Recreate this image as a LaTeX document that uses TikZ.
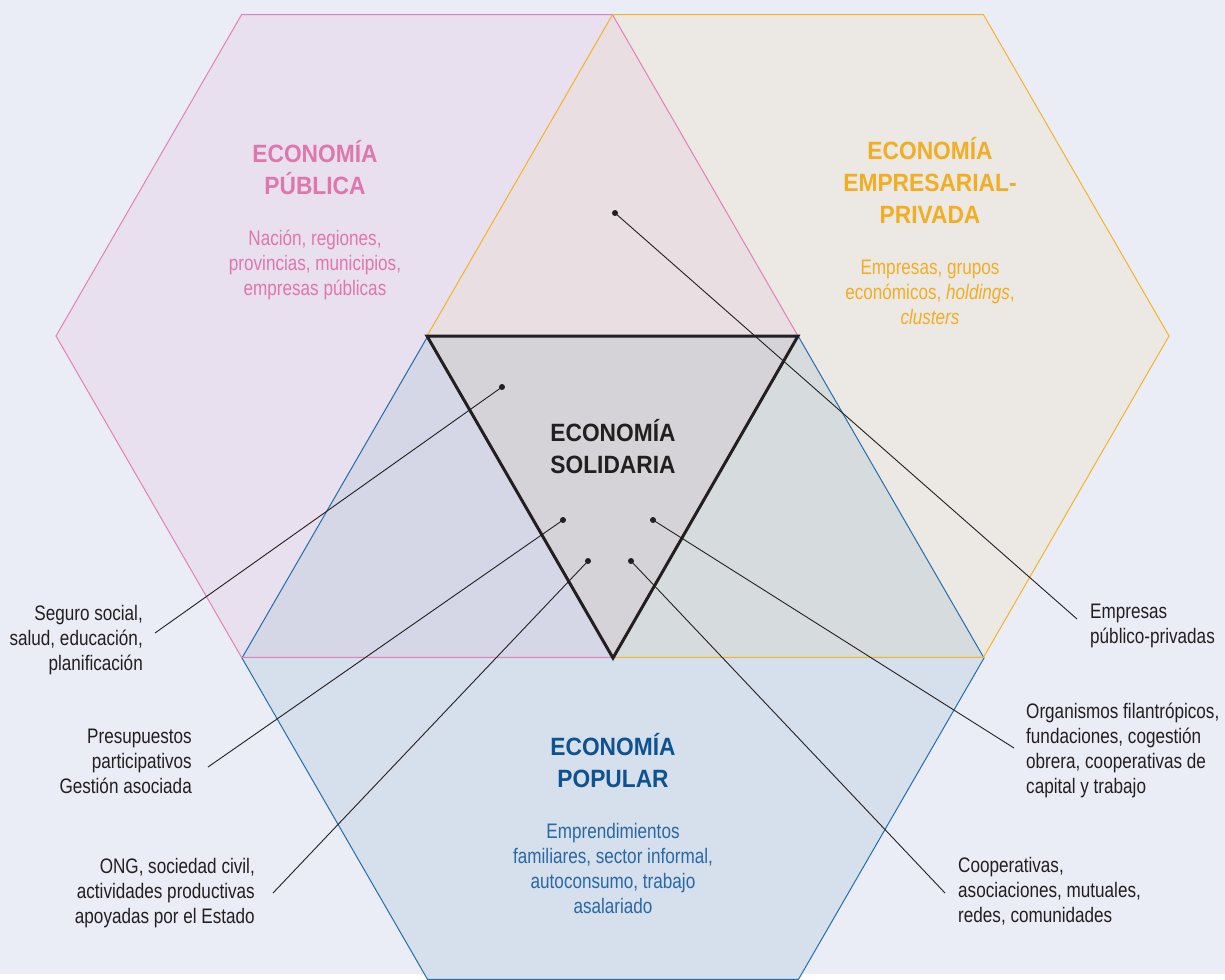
\documentclass[tikz,border=0pt]{standalone}
\usepackage{fontspec}
\setmainfont{Liberation Sans}[FakeStretch=0.815]
\newfontfamily\headfont{Liberation Sans}[FakeStretch=0.91]
\definecolor{BgBlue}{RGB}{234,237,246}
\definecolor{PinkFill}{RGB}{232,224,238}
\definecolor{GoldFill}{RGB}{236,232,228}
\definecolor{BlueFill}{RGB}{214,223,236}
\definecolor{PinkGold}{RGB}{233,222,225}
\definecolor{PinkBlue}{RGB}{213,214,230}
\definecolor{GoldBlue}{RGB}{214,220,222}
\definecolor{CoreFill}{RGB}{213,210,216}
\definecolor{PinkLine}{RGB}{228,128,184}
\definecolor{GoldLine}{RGB}{244,180,40}
\definecolor{BlueLine}{RGB}{36,110,172}
\definecolor{PinkText}{RGB}{224,118,174}
\definecolor{GoldText}{RGB}{242,174,34}
\definecolor{BlueTitle}{RGB}{14,82,146}
\definecolor{BlueText}{RGB}{40,104,166}
\definecolor{Ink}{RGB}{35,31,32}

\begin{document}
\begin{tikzpicture}[x=1pt, y=-1pt,
    every node/.style={inner sep=0pt, text=Ink},
    body/.style={font=\fontsize{21}{25}\selectfont},
    title/.style={font=\headfont\fontsize{25}{32}\selectfont\bfseries, align=center},
    hexline/.style={line width=1pt},
    dot/.style={circle, fill=Ink, minimum size=6pt, inner sep=0pt},
    leader/.style={draw=Ink, line width=0.9pt}]

\fill[BgBlue] (0,0) rectangle (1225,974);

% corner points of the figure
\coordinate (A)  at (612,14);
\coordinate (L)  at (427,336);
\coordinate (R)  at (798,336);
\coordinate (B)  at (613,658);
\coordinate (BL) at (242,658);
\coordinate (BR) at (984,658);
\coordinate (pc) at (427,336);
\coordinate (gc) at (798,336);
\coordinate (bc) at (613,658);

% hexagon fills
\fill[PinkFill] (pc) +(0:371) \foreach \a in {60,120,...,300} { -- +(\a:371) } -- cycle;
\fill[GoldFill] (gc) +(0:371) \foreach \a in {60,120,...,300} { -- +(\a:371) } -- cycle;
\fill[BlueFill] (bc) +(0:371) \foreach \a in {60,120,...,300} { -- +(\a:371) } -- cycle;

% overlaps
\fill[PinkGold] (A) -- (R) -- (L) -- cycle;
\fill[PinkBlue] (L) -- (B) -- (BL) -- cycle;
\fill[GoldBlue] (R) -- (BR) -- (B) -- cycle;
\fill[CoreFill] (L) -- (R) -- (B) -- cycle;

% hexagon outlines
\draw[hexline, BlueLine] (bc) +(0:371) \foreach \a in {60,120,...,300} { -- +(\a:371) } -- cycle;
\draw[hexline, PinkLine] (pc) +(0:371) \foreach \a in {60,120,...,300} { -- +(\a:371) } -- cycle;
\draw[hexline, GoldLine] (gc) +(0:371) \foreach \a in {60,120,...,300} { -- +(\a:371) } -- cycle;
\draw[line width=3pt, Ink, line join=miter] (L) -- (R) -- (B) -- cycle;

% titles and contents (base = last line)
\node[title, text=PinkText, anchor=base] (pubT) at (315,194) {ECONOMÍA\\PÚBLICA};
\node[body, align=center, text=PinkText, anchor=base] (pubS) at (315,295)
  {Nación, regiones,\\provincias, municipios,\\empresas públicas};
\node[title, text=GoldText, anchor=base] (priT) at (930,223) {ECONOMÍA\\EMPRESARIAL-\\PRIVADA};
\node[body, align=center, text=GoldText, anchor=base] (priS) at (930,324)
  {Empresas, grupos\\económicos, \textit{holdings},\\\textit{clusters}};
\node[title, anchor=base] (solT) at (613,473) {ECONOMÍA\\SOLIDARIA};
\node[title, text=BlueTitle, anchor=base] (popT) at (613,787) {ECONOMÍA\\POPULAR};
\node[body, align=center, text=BlueText, anchor=base] (popS) at (613,913)
  {Emprendimientos\\familiares, sector informal,\\autoconsumo, trabajo\\asalariado};

% side labels
\node[body, align=right, anchor=base east] (seg) at (143,670) {Seguro social,\\salud, educación,\\planificación};
\node[body, align=right, anchor=base east] (pre) at (192,793) {Presupuestos\\participativos\\Gestión asociada};
\node[body, align=right, anchor=base east] (ong) at (255,923) {ONG, sociedad civil,\\actividades productivas\\apoyadas por el Estado};
\node[body, align=left, anchor=base west] (emp) at (1090,643) {Empresas\\público-privadas};
\node[body, align=left, anchor=base west] (org) at (1026,793) {Organismos filantrópicos,\\fundaciones, cogestión\\obrera, cooperativas de\\capital y trabajo};
\node[body, align=left, anchor=base west] (coo) at (958,922) {Cooperativas,\\asociaciones, mutuales,\\redes, comunidades};

% dots
\node[dot] (dEmp) at (615,213) {};
\node[dot] (dSeg) at (502,387) {};
\node[dot] (dPre) at (563,520) {};
\node[dot] (dOrg) at (653,520) {};
\node[dot] (dOng) at (588,561) {};
\node[dot] (dCoo) at (631,561) {};

% free ends beside the labels
\coordinate (eEmp) at (1077,619);
\coordinate (eSeg) at (155,633);
\coordinate (ePre) at (208,767);
\coordinate (eOrg) at (1014,748);
\coordinate (eOng) at (273,893);
\coordinate (eCoo) at (945,893);

\draw[leader] (dEmp.center) -- (eEmp);
\draw[leader] (dSeg.center) -- (eSeg);
\draw[leader] (dPre.center) -- (ePre);
\draw[leader] (dOrg.center) -- (eOrg);
\draw[leader] (dOng.center) -- (eOng);
\draw[leader] (dCoo.center) -- (eCoo);
\end{tikzpicture}
\end{document}
